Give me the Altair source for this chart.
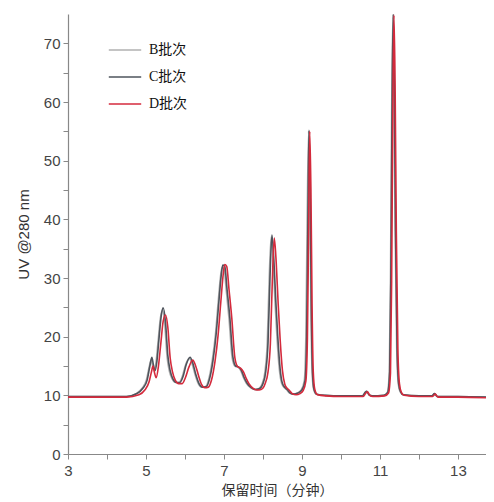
import altair as alt
import pandas as pd

series_names = ["B批次", "C批次", "D批次"]
series_colors = ["#b0b0b0", "#4e545c", "#d42a3c"]

b_time = [3.0, 4.5, 4.75, 4.9, 5.01, 5.08, 5.13, 5.17, 5.21, 5.26, 5.31, 5.37, 5.42, 5.48,
          5.54, 5.6, 5.67, 5.76, 5.85, 5.93, 6.01, 6.11, 6.18, 6.26, 6.34, 6.43, 6.53, 6.61,
          6.7, 6.78, 6.85, 6.91, 6.95, 7.0, 7.06, 7.13, 7.21, 7.28, 7.36, 7.43, 7.5, 7.57,
          7.68, 7.78, 7.88, 7.98, 8.05, 8.11, 8.16, 8.21, 8.26, 8.31, 8.36, 8.42, 8.48, 8.55,
          8.6, 8.68, 8.78, 8.88, 8.98, 9.06, 9.1, 9.13, 9.17, 9.2, 9.23, 9.26, 9.3, 9.37,
          9.6, 10.0, 10.55, 10.62, 10.66, 10.72, 10.8, 11.1, 11.19, 11.24, 11.27, 11.3,
          11.33, 11.36, 11.39, 11.43, 11.47, 11.52, 11.6, 12.0, 12.33, 12.4, 12.47, 13.0, 13.72]
b_value = [9.8, 9.8, 10.3, 11.2, 12.6, 14.8, 16.0, 15.0, 14.2, 15.8, 19.2, 23.2, 24.5, 22.2,
           16.6, 14.1, 12.8, 12.2, 12.2, 13.2, 15.1, 16.3, 15.4, 13.5, 12.0, 11.4, 11.5, 12.8,
           16.0, 20.3, 25.8, 30.2, 31.8, 31.6, 27.8, 23.0, 16.4, 15.0, 14.8, 14.2, 13.0, 12.1,
           11.3, 11.0, 11.1, 12.0, 14.0, 19.0, 30.0, 37.0, 32.8, 25.8, 19.8, 14.4, 12.0, 11.3,
           11.0, 10.4, 10.2, 10.4, 10.9, 12.5, 20.0, 38.0, 55.0, 45.0, 25.0, 14.0, 11.0, 10.2,
           10.0, 9.9, 9.9, 10.5, 10.7, 10.1, 9.9, 10.0, 10.5, 14.0, 30.0, 58.0,
           74.5, 62.0, 38.0, 18.0, 12.0, 10.6, 10.1, 9.9, 9.9, 10.3, 9.8, 9.8, 9.7]

c_time = [3.0, 4.5, 4.77, 4.92, 5.03, 5.1, 5.15, 5.19, 5.23, 5.28, 5.33, 5.39, 5.44, 5.5,
          5.56, 5.62, 5.69, 5.78, 5.87, 5.95, 6.03, 6.13, 6.2, 6.28, 6.36, 6.45, 6.55, 6.63,
          6.72, 6.8, 6.87, 6.93, 6.97, 7.02, 7.08, 7.15, 7.23, 7.3, 7.38, 7.45, 7.52, 7.59,
          7.7, 7.8, 7.9, 8.0, 8.07, 8.13, 8.18, 8.23, 8.28, 8.33, 8.38, 8.44, 8.5, 8.57,
          8.62, 8.7, 8.8, 8.9, 9.0, 9.08, 9.12, 9.15, 9.18, 9.21, 9.24, 9.27, 9.31, 9.38,
          9.6, 10.0, 10.55, 10.62, 10.66, 10.72, 10.8, 11.1, 11.2, 11.25, 11.28, 11.31,
          11.34, 11.37, 11.4, 11.44, 11.48, 11.53, 11.6, 12.0, 12.33, 12.4, 12.47, 13.0, 13.72]
c_value = [9.8, 9.8, 10.3, 11.2, 12.6, 15.0, 16.5, 15.2, 14.2, 15.8, 19.4, 23.5, 24.9, 22.5,
           16.8, 14.2, 12.8, 12.2, 12.2, 13.2, 15.2, 16.5, 15.5, 13.5, 12.0, 11.4, 11.5, 12.8,
           16.0, 20.5, 26.0, 30.5, 32.2, 32.0, 28.0, 23.3, 16.5, 15.0, 14.8, 14.2, 13.0, 12.1,
           11.3, 11.0, 11.1, 12.0, 14.0, 19.0, 30.0, 37.3, 33.0, 26.0, 20.0, 14.5, 12.0, 11.3,
           11.0, 10.4, 10.2, 10.4, 10.9, 12.5, 20.0, 38.0, 55.2, 45.0, 25.0, 14.0, 11.0, 10.2,
           10.0, 9.9, 9.9, 10.5, 10.7, 10.1, 9.9, 10.0, 10.5, 14.0, 30.0, 58.0,
           75.0, 62.0, 38.0, 18.0, 12.0, 10.6, 10.1, 9.9, 9.9, 10.3, 9.8, 9.8, 9.7]

d_time = [3.0, 4.5, 4.82, 4.97, 5.08, 5.14, 5.18, 5.22, 5.26, 5.32, 5.38, 5.44, 5.5, 5.56,
          5.62, 5.68, 5.75, 5.84, 5.93, 6.01, 6.1, 6.2, 6.27, 6.35, 6.42, 6.51, 6.6, 6.68,
          6.77, 6.85, 6.92, 6.98, 7.02, 7.07, 7.13, 7.2, 7.28, 7.35, 7.43, 7.5, 7.57, 7.64,
          7.75, 7.85, 7.95, 8.05, 8.13, 8.19, 8.24, 8.29, 8.34, 8.39, 8.44, 8.5, 8.56, 8.62,
          8.67, 8.75, 8.85, 8.95, 9.03, 9.1, 9.14, 9.17, 9.2, 9.23, 9.26, 9.29, 9.33, 9.4,
          9.62, 10.0, 10.57, 10.64, 10.68, 10.74, 10.82, 11.12, 11.22, 11.27, 11.3, 11.33,
          11.36, 11.39, 11.42, 11.46, 11.5, 11.55, 11.62, 12.0, 12.35, 12.42, 12.49, 13.0, 13.72]
d_value = [9.7, 9.7, 10.1, 10.9, 12.3, 14.0, 15.0, 13.8, 13.0, 15.0, 18.8, 22.6, 23.7, 21.6,
           16.4, 14.0, 12.6, 12.0, 12.0, 13.0, 14.8, 16.0, 15.1, 13.3, 11.9, 11.3, 11.4, 12.6,
           15.8, 20.3, 26.0, 30.6, 32.3, 32.0, 28.0, 23.2, 16.4, 14.9, 14.6, 14.0, 12.9, 12.0,
           11.2, 10.9, 11.0, 11.9, 14.0, 18.8, 29.5, 36.8, 32.6, 25.6, 19.6, 14.2, 11.9, 11.2,
           10.9, 10.3, 10.1, 10.3, 10.8, 12.4, 19.8, 37.5, 55.0, 45.0, 25.0, 14.0, 11.0, 10.1,
           9.9, 9.8, 9.8, 10.4, 10.6, 10.0, 9.8, 9.9, 10.4, 13.8, 29.5, 57.5,
           74.8, 62.0, 38.0, 18.0, 12.0, 10.5, 10.0, 9.8, 9.8, 10.2, 9.7, 9.7, 9.6]

x_ticks = list(range(3, 14))
y_ticks = list(range(0, 75, 5))

frames = []
for name, ts, vs in [(series_names[0], b_time, b_value),
                     (series_names[1], c_time, c_value),
                     (series_names[2], d_time, d_value)]:
    frames.append(pd.DataFrame({"time": ts, "uv": vs, "batch": name}))
df = pd.concat(frames, ignore_index=True)
df["order"] = df.index

label_font = "Liberation Sans, Arial, sans-serif"

chart = alt.Chart(df).mark_line(strokeWidth=1.6, interpolate="monotone", clip=True).encode(
    x=alt.X("time:Q",
            scale=alt.Scale(domain=[3, 13.72], nice=False, zero=False),
            axis=alt.Axis(values=x_ticks,
                          labelExpr="datum.value % 2 == 1 ? datum.label : ''",
                          title="保留时间（分钟）",
                          titleFont="Noto Sans CJK SC",
                          titleFontSize=14,
                          titleFontWeight="normal",
                          titleColor="#333333",
                          titlePadding=5,
                          labelFont=label_font,
                          labelFontSize=15,
                          labelColor="#444444",
                          labelPadding=4,
                          tickSize=5,
                          labelFlush=False,
                          grid=False)),
    y=alt.Y("uv:Q",
            scale=alt.Scale(domain=[0, 75], nice=False),
            axis=alt.Axis(values=y_ticks,
                          labelExpr="datum.value % 10 == 0 ? datum.label : ''",
                          title="UV @280 nm",
                          titleFont=label_font,
                          titleFontSize=15,
                          titleFontWeight="normal",
                          titleColor="#333333",
                          titlePadding=12,
                          labelFont=label_font,
                          labelFontSize=15,
                          labelColor="#444444",
                          labelPadding=3,
                          tickSize=5,
                          grid=False)),
    color=alt.Color("batch:N",
                    scale=alt.Scale(domain=series_names, range=series_colors),
                    legend=alt.Legend(title=None,
                                      orient="none",
                                      legendX=40,
                                      legendY=19,
                                      symbolType="stroke",
                                      symbolSize=1050,
                                      symbolStrokeWidth=1.5,
                                      labelFont="Liberation Serif, Noto Sans CJK SC",
                                      labelFontSize=14,
                                      labelColor="#111111",
                                      labelOffset=7,
                                      rowPadding=3,
                                      padding=0)),
    detail="batch:N",
    order="order:Q",
).properties(
    width=418,
    height=440,
    autosize=alt.AutoSizeParams(type="none"),
    padding={"left": 60, "top": 6, "right": 0, "bottom": 50},
).configure_view(stroke=None).configure_axis(
    domainColor="#888888",
    tickColor="#888888",
    domainWidth=1.2,
)

chart.save("out.html", embed_options={"renderer": "svg", "actions": False})
